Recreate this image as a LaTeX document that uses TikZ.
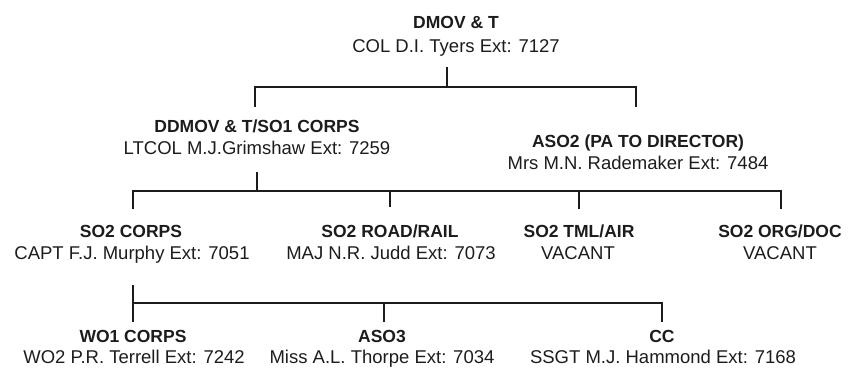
\documentclass[tikz,border=0pt]{standalone}
\usepackage{fontspec}
\setmainfont{Liberation Sans}
\usepackage{tikz}
\usetikzlibrary{positioning,calc}
\definecolor{inkblack}{RGB}{28, 28, 28}

\begin{document}
\begin{tikzpicture}[x=0.5pt, y=-0.5pt,
    post/.style={font=\bfseries\fontsize{8.75}{10}\selectfont, inner sep=0pt, anchor=base, text=inkblack},
    holder/.style={font=\fontsize{9.25}{11}\selectfont, inner sep=0pt, anchor=base, text=inkblack},
    link/.style={line width=1.25pt, color=inkblack}]
    \useasboundingbox (0,0) rectangle (848,370);

    % Director
    \node[post] (dmov) at (456,28.5) {DMOV \& T};
    \node[holder] (dmov-n) at (456,52) {COL D.I. Tyers Ext: 7127};

    % Deputy and PA
    \node[post] (ddmov) at (257,132.5) {DDMOV \& T/SO1 CORPS};
    \node[holder] (ddmov-n) at (257,154.5) {LTCOL M.J.Grimshaw Ext: 7259};
    \node[post] (aso2) at (638,147.5) {ASO2 (PA TO DIRECTOR)};
    \node[holder] (aso2-n) at (638,169.5) {Mrs M.N. Rademaker Ext: 7484};

    % SO2 desks
    \node[post] (so2c) at (131,237) {SO2 CORPS};
    \node[holder] (so2c-n) at (132,259.5) {CAPT F.J. Murphy Ext: 7051};
    \node[post] (so2r) at (390,237) {SO2 ROAD/RAIL};
    \node[holder] (so2r-n) at (391,259.5) {MAJ N.R. Judd Ext: 7073};
    \node[post] (so2t) at (579,237) {SO2 TML/AIR};
    \node[holder] (so2t-n) at (578,259.5) {VACANT};
    \node[post] (so2o) at (780,237) {SO2 ORG/DOC};
    \node[holder] (so2o-n) at (780,259.5) {VACANT};

    % Under SO2 CORPS
    \node[post] (wo1) at (133,342) {WO1 CORPS};
    \node[holder] (wo1-n) at (134,363) {WO2 P.R. Terrell Ext: 7242};
    \node[post] (aso3) at (382,342) {ASO3};
    \node[holder] (aso3-n) at (382,363) {Miss A.L. Thorpe Ext: 7034};
    \node[post] (cc) at (662,342) {CC};
    \node[holder] (cc-n) at (663,363) {SSGT M.J. Hammond Ext: 7168};

    % Director to deputy and PA
    \coordinate (j1) at (447,87);
    \coordinate (t1a) at (255,107);
    \coordinate (t1b) at (636,107);
    \draw[link] (j1) -- ++(0,-20);
    \draw[link] (t1a) |- (j1) -| (t1b);

    % Deputy to SO2 desks
    \coordinate (j2) at (257,191);
    \coordinate (t2a) at (133,209);
    \coordinate (t2d) at (781,209);
    \draw[link] (j2) -- ++(0,-19);
    \draw[link] (t2a) |- (j2) -| (t2d);
    \draw[line width=0.8pt, color=inkblack] (390,191) -- (390,207);
    \draw[link] (579,191) -- (579,209);

    % SO2 CORPS to its staff
    \coordinate (j3) at (133,303);
    \coordinate (t3c) at (662,322);
    \draw[link] (133,285) -- (133,322);
    \draw[link] (j3) -| (t3c);
    \draw[link] (384,303) -- (384,322);
\end{tikzpicture}
\end{document}
